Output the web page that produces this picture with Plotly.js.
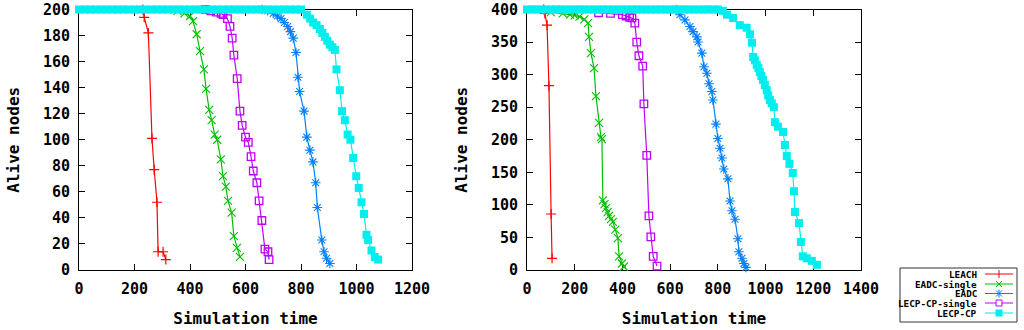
<!DOCTYPE html>
<html><head><meta charset="utf-8">
<script src="https://cdn.plot.ly/plotly-3.0.1.min.js"></script>
<style>html,body{margin:0;padding:0;background:#fff;}#chart{width:1024px;height:330px;}</style>
</head><body><div id="chart"></div>
<script>
// ---------- data ----------
const seriesNames = ['LEACH', 'EADC-single', 'EADC', 'LECP-CP-single', 'LECP-CP'];

// 200-node network (left chart)
const leach200T = [230, 235, 250, 263, 271, 281, 285, 303, 313];
const leach200N = [200, 194, 182, 101, 77, 52, 14, 14, 8];
const eadcS200T = [355, 380, 400, 411, 424, 436, 450, 458, 469, 478, 489, 498, 511, 519, 529, 537, 550, 558, 569, 580];
const eadcS200N = [199, 197, 195, 191, 181, 168, 154, 139, 123, 115, 104, 100, 85, 72, 64, 53, 44, 26, 17, 10];
const eadc200T = [660, 680, 700, 715, 728, 740, 752, 762, 772, 782, 789, 795, 811, 821, 832, 843, 853, 859, 875, 883, 892, 904];
const eadc200N = [200, 199, 197, 195, 193, 190, 187, 183, 178, 167, 148, 137, 122, 102, 92, 83, 67, 48, 23, 14, 9, 5];
const lecpS200T = [455, 475, 495, 512, 519, 535, 544, 552, 558, 570, 580, 588, 600, 610, 620, 628, 641, 649, 659, 670, 681, 685];
const lecpS200N = [200, 199, 198, 197, 196, 193, 187, 178, 165, 147, 122, 111, 102, 98, 87, 76, 67, 53, 38, 16, 14, 8];
const lecp200T = [0, 20, 40, 60, 80, 100, 120, 140, 160, 180, 200, 220, 240, 260, 280, 300, 320, 340, 360, 380, 400,
  420, 440, 460, 480, 500, 520, 540, 560, 580, 600, 620, 640, 660, 680, 700, 720, 740, 760, 780, 800,
  821, 833, 844, 856, 868, 877, 886, 895, 904, 913, 922, 928, 940, 948, 958, 968, 978, 988, 999, 1008, 1018, 1027, 1036, 1042, 1054, 1066, 1078];
const lecp200N = [200, 200, 200, 200, 200, 200, 200, 200, 200, 200, 200, 200, 200, 200, 200, 200, 200, 200, 200, 200, 200,
  200, 200, 200, 200, 200, 200, 200, 200, 200, 200, 200, 200, 200, 200, 200, 200, 200, 200, 200, 200,
  196, 193, 190, 188, 185, 182, 179, 176, 173, 171, 169, 154, 138, 122, 115, 104, 100, 86, 72, 63, 52, 43, 27, 23, 15, 10, 8];

// 400-node network (right chart)
const leach400T = [70, 75, 84, 92, 101, 105];
const leach400N = [400, 394, 376, 283, 86, 18];
const eadcS400T = [100, 150, 180, 200, 220, 240, 256, 260, 268, 281, 289, 302, 310, 314, 318, 325, 331, 338, 344, 352, 360, 370, 381, 386, 398, 406];
const eadcS400N = [396, 394, 392, 391, 389, 385, 379, 358, 333, 310, 267, 226, 204, 201, 107, 101, 95, 89, 83, 78, 74, 62, 49, 21, 10, 5];
const eadc400T = [625, 641, 662, 683, 696, 712, 717, 733, 742, 754, 763, 775, 779, 792, 800, 809, 817, 825, 842, 851, 859, 872, 884, 888, 901, 909, 918];
const eadc400N = [400, 392, 384, 374, 366, 358, 350, 333, 312, 302, 286, 274, 261, 224, 202, 187, 172, 155, 140, 106, 91, 78, 48, 28, 18, 10, 4];
const lecpS400T = [300, 350, 400, 415, 430, 440, 452, 460, 469, 485, 490, 502, 511, 519, 529, 545];
const lecpS400N = [395, 394, 392, 390, 388, 387, 379, 350, 329, 313, 255, 176, 83, 51, 21, 6];
const lecp400T = [0, 20, 40, 60, 80, 100, 120, 140, 160, 180, 200, 220, 240, 260, 280, 300, 320, 340, 360, 380, 400,
  420, 440, 460, 480, 500, 520, 540, 560, 580, 600, 620, 640, 660, 680, 700, 720, 740, 760, 780, 800,
  821, 838, 864, 892, 921, 935, 943, 948, 955, 963, 970, 976, 982, 989, 997, 1005, 1011, 1018, 1026, 1035, 1039, 1052, 1073, 1081, 1089, 1100, 1114, 1119, 1123, 1140, 1148, 1156, 1173, 1194, 1215];
const lecp400N = [400, 400, 400, 400, 400, 400, 400, 400, 400, 400, 400, 400, 400, 400, 400, 400, 400, 400, 400, 400, 400,
  400, 400, 400, 400, 400, 400, 400, 400, 400, 400, 400, 400, 400, 400, 400, 400, 400, 400, 400, 400,
  398, 392, 387, 376, 372, 362, 349, 327, 322, 315, 310, 304, 298, 292, 284, 276, 268, 261, 256, 250, 227, 220, 212, 192, 175, 163, 149, 121, 89, 72, 43, 21, 18, 14, 8];

const xTicks200 = [0, 200, 400, 600, 800, 1000, 1200];
const yTicks200 = [0, 20, 40, 60, 80, 100, 120, 140, 160, 180, 200];
const xTicks400 = [0, 200, 400, 600, 800, 1000, 1200, 1400];
const yTicks400 = [0, 50, 100, 150, 200, 250, 300, 350, 400];

// ---------- styles ----------
const styles = [
  {color: '#ff0000', symbol: 'cross-thin-open', size: 7.2, lw: 1.2},
  {color: '#00c000', symbol: 'x-thin-open', size: 8, lw: 1.1},
  {color: '#0080ff', symbol: 'asterisk-open', size: 8, lw: 1.1},
  {color: '#c000ff', symbol: 'square-open', size: 7.5, lw: 1.3},
  {color: '#00eeee', symbol: 'square', size: 8, lw: 0}
];

const left = [[leach200T, leach200N], [eadcS200T, eadcS200N], [eadc200T, eadc200N], [lecpS200T, lecpS200N], [lecp200T, lecp200N]];
const right = [[leach400T, leach400N], [eadcS400T, eadcS400N], [eadc400T, eadc400N], [lecpS400T, lecpS400N], [lecp400T, lecp400N]];

const traces = [];
function addTraces(sets, xa, ya) {
  sets.forEach((s, i) => {
    const st = styles[i];
    traces.push({
      type: 'scatter', mode: 'lines+markers', name: seriesNames[i],
      x: s[0], y: s[1], xaxis: xa, yaxis: ya, showlegend: false, cliponaxis: false,
      line: {color: st.color, width: 1.2},
      marker: {symbol: st.symbol, size: st.size, color: st.color,
               line: {color: st.color, width: st.lw}}
    });
  });
}
addTraces(left, 'x', 'y');
addTraces(right, 'x2', 'y2');

const FONT = 'DejaVu Sans Mono, Liberation Mono, monospace';
function axis(extra) {
  return Object.assign({
    showline: true, linecolor: '#000', linewidth: 1, mirror: 'ticks',
    ticks: 'inside', ticklen: 6, tickcolor: '#000', tickwidth: 1,
    showgrid: false, zeroline: false, layer: 'below traces', fixedrange: true,
    tickfont: {family: FONT, size: 15, weight: 'bold', color: '#000'},
    ticklabelstandoff: 5, tickmode: 'array'
  }, extra);
}
const titleFont = {family: FONT, size: 16, weight: 'bold', color: '#000'};

const yDom = [1 - 270 / 330, 1 - 9.5 / 330];
const layout = {
  width: 1024, height: 330, margin: {l: 0, r: 0, t: 0, b: 0},
  paper_bgcolor: '#fff', plot_bgcolor: '#fff', showlegend: false,
  xaxis: axis({domain: [79 / 1024, 412 / 1024], range: [0, 1200], tickvals: xTicks200, ticktext: xTicks200.map(String), anchor: 'y',
    title: {text: 'Simulation time', font: titleFont, standoff: 15}}),
  yaxis: axis({domain: yDom, range: [0, 200], tickvals: yTicks200, ticktext: yTicks200.map(String), anchor: 'x',
    title: {text: 'Alive nodes', font: titleFont, standoff: 19}}),
  xaxis2: axis({domain: [527 / 1024, 861 / 1024], range: [0, 1400], tickvals: xTicks400, ticktext: xTicks400.map(String), anchor: 'y2',
    title: {text: 'Simulation time', font: titleFont, standoff: 15}}),
  yaxis2: axis({domain: yDom, range: [0, 400], tickvals: yTicks400, ticktext: yTicks400.map(String), anchor: 'x2',
    title: {text: 'Alive nodes', font: titleFont, standoff: 19}}),
  shapes: [], annotations: []
};

// ---------- key (gnuplot-style, symbol right of text) ----------
const PX = p => p / 1024, PY = p => 1 - p / 330;
const key = {x0: 900, x1: 1017, y0: 268, y1: 322, rows: [274, 284, 293.5, 303, 313], textRight: 979, lx0: 985, lx1: 1013, mx: 999};
layout.shapes.push({type: 'rect', xref: 'paper', yref: 'paper', x0: PX(key.x0), x1: PX(key.x1), y0: PY(key.y1), y1: PY(key.y0),
  line: {color: '#333', width: 1}, fillcolor: '#fff', layer: 'below'});
function seg(x0, y0, x1, y1, c, w) {
  layout.shapes.push({type: 'line', xref: 'paper', yref: 'paper', x0: PX(x0), y0: PY(y0), x1: PX(x1), y1: PY(y1), line: {color: c, width: w || 1}});
}
seriesNames.forEach((nm, i) => {
  const y = key.rows[i], c = styles[i].color, m = key.mx;
  layout.annotations.push({xref: 'paper', yref: 'paper', x: PX(key.textRight), y: PY(y), xanchor: 'right', yanchor: 'middle',
    text: nm, showarrow: false, font: {family: FONT, size: 9.3, weight: 'bold', color: '#000'}});
  seg(key.lx0, y, key.lx1, y, c, 1);
  if (i === 0) { seg(m, y - 4, m, y + 4, c, 1); }
  if (i === 1) { seg(m - 3, y - 3, m + 3, y + 3, c, 1); seg(m - 3, y + 3, m + 3, y - 3, c, 1); }
  if (i === 2) { seg(m - 3, y - 3, m + 3, y + 3, c, 1); seg(m - 3, y + 3, m + 3, y - 3, c, 1); seg(m, y - 4, m, y + 4, c, 1); }
  if (i === 3) { layout.shapes.push({type: 'rect', xref: 'paper', yref: 'paper', x0: PX(m - 3), x1: PX(m + 3), y0: PY(y + 3), y1: PY(y - 3), line: {color: c, width: 1}, fillcolor: '#fff'}); }
  if (i === 4) { layout.shapes.push({type: 'rect', xref: 'paper', yref: 'paper', x0: PX(m - 3.5), x1: PX(m + 3.5), y0: PY(y + 3.5), y1: PY(y - 3.5), line: {width: 0}, fillcolor: c}); }
});

Plotly.newPlot('chart', traces, layout, {staticPlot: true, displayModeBar: false});
</script>
</body></html>
